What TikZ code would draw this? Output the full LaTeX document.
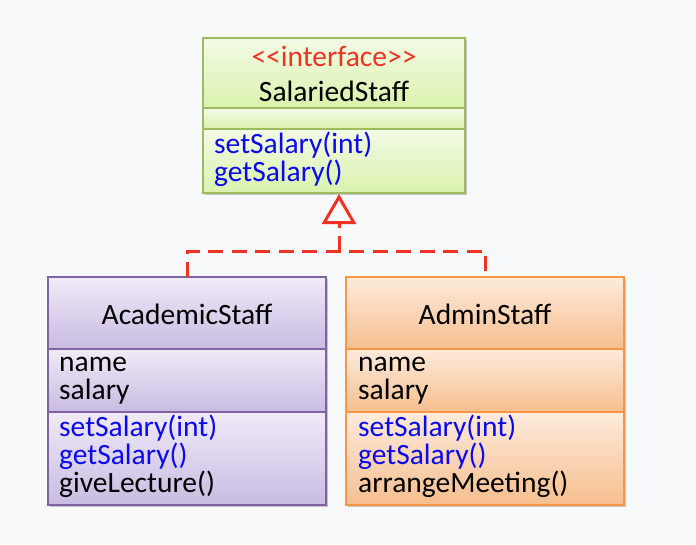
\documentclass[tikz,border=0pt]{standalone}
\usepackage{fontspec}
\setmainfont{Carlito}
\usetikzlibrary{arrows.meta,shadows}
\definecolor{bg}{RGB}{248,249,251}
\definecolor{gborder}{RGB}{158,188,95}
\definecolor{gtop}{RGB}{243,251,230}
\definecolor{gbot}{RGB}{218,242,172}
\definecolor{pborder}{RGB}{128,100,162}
\definecolor{ptop}{RGB}{240,234,247}
\definecolor{pbot}{RGB}{200,187,226}
\definecolor{oborder}{RGB}{247,150,70}
\definecolor{otop}{RGB}{253,235,220}
\definecolor{obot}{RGB}{246,190,142}
\definecolor{umlred}{RGB}{238,50,36}
\definecolor{umlblue}{RGB}{10,10,235}
\begin{document}
\begin{tikzpicture}[x=1pt,y=-1pt,
  comp/.style={draw, line width=1.2pt, inner sep=0pt, outer sep=0pt, anchor=north west},
  gcomp/.style={comp, draw=gborder, top color=gtop, bottom color=gbot},
  pcomp/.style={comp, draw=pborder, top color=ptop, bottom color=pbot},
  ocomp/.style={comp, draw=oborder, top color=otop, bottom color=obot},
  shadowbox/.style={anchor=north west, inner sep=0pt, outer sep=0pt, fill=bg,
     drop shadow={shadow xshift=1.5pt, shadow yshift=-2pt, opacity=0.35, fill=black!60}},
  txt/.style={font=\fontsize{29.5}{28}\selectfont, inner sep=0pt, anchor=base west},
  ctxt/.style={font=\fontsize{29.5}{28}\selectfont, inner sep=0pt, anchor=base},
  dashline/.style={draw=umlred, line width=3pt, dash pattern=on 15pt off 8.5pt},
]
\fill[bg] (0,0) rectangle (696,544);
\useasboundingbox (0,0) rectangle (696,544);

% ---- SalariedStaff ----
\node[shadowbox, minimum width=262pt, minimum height=155pt] (salbox) at (203,38) {};
\node[gcomp, minimum width=262pt, minimum height=70pt] (salhead) at (203,38) {};
\node[gcomp, minimum width=262pt, minimum height=21pt] (salattr) at (203,108) {};
\node[gcomp, minimum width=262pt, minimum height=64pt] (salops) at (203,129) {};
\node[ctxt, text=umlred] (salster) at (334,66) {{<}{<}interface{>}{>}};
\node[ctxt] (salname) at (334,101) {SalariedStaff};
\node[txt, text=umlblue] (salop1) at (214,153) {setSalary(int)};
\node[txt, text=umlblue] (salop2) at (214,181) {getSalary()};

% ---- AcademicStaff ----
\node[shadowbox, minimum width=278pt, minimum height=228pt] (acbox) at (48,277) {};
\node[pcomp, minimum width=278pt, minimum height=72pt] (achead) at (48,277) {};
\node[pcomp, minimum width=278pt, minimum height=63pt] (acattr) at (48,349) {};
\node[pcomp, minimum width=278pt, minimum height=93pt] (acops) at (48,412) {};
\node[ctxt] (acname) at (187,324.5) {AcademicStaff};
\node[txt] (aca1) at (59,371) {name};
\node[txt] (aca2) at (59,399) {salary};
\node[txt, text=umlblue] (aco1) at (59,436) {setSalary(int)};
\node[txt, text=umlblue] (aco2) at (59,464) {getSalary()};
\node[txt] (aco3) at (59,492) {giveLecture()};

% ---- AdminStaff ----
\node[shadowbox, minimum width=278pt, minimum height=228pt] (adbox) at (346,277) {};
\node[ocomp, minimum width=278pt, minimum height=72pt] (adhead) at (346,277) {};
\node[ocomp, minimum width=278pt, minimum height=63pt] (adattr) at (346,349) {};
\node[ocomp, minimum width=278pt, minimum height=93pt] (adops) at (346,412) {};
\node[ctxt] (adname) at (485,324.5) {AdminStaff};
\node[txt] (ada1) at (358,371) {name};
\node[txt] (ada2) at (358,399) {salary};
\node[txt, text=umlblue] (ado1) at (358,436) {setSalary(int)};
\node[txt, text=umlblue] (ado2) at (358,464) {getSalary()};
\node[txt] (ado3) at (358,492) {arrangeMeeting()};

% ---- realization connectors ----
\coordinate (join) at (339,251);
\coordinate (tip) at (339,194);
\draw[dashline] (achead.north) -- ++(0,-26) -| (adhead.north);
\draw[dashline, dash phase=0pt, -{Triangle[open, length=30pt, width=34pt, line width=3pt, fill=white, sep=0pt]}]
  (join) -- (tip);
\end{tikzpicture}
\end{document}
